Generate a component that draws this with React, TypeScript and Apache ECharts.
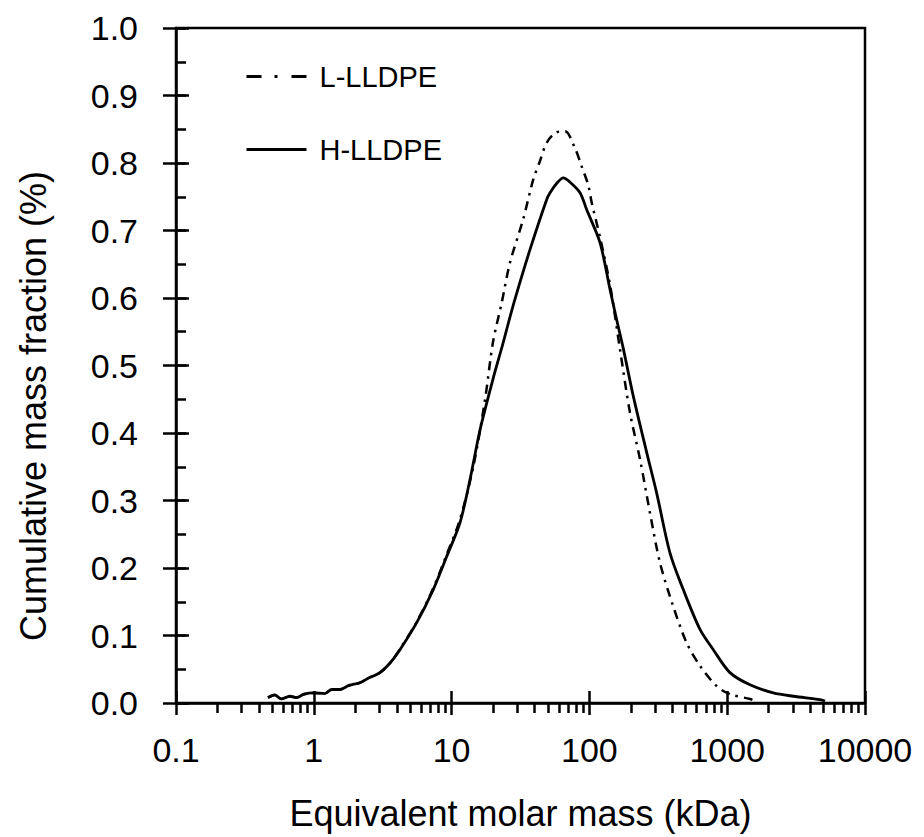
import React, { useEffect, useRef } from "react";
import * as echarts from "echarts";

const xMajor = [0.1, 1, 10, 100, 1000, 10000];
const xMinor = [
  0.2, 0.3, 0.4, 0.5, 0.6, 0.7, 0.8, 0.9,
  2, 3, 4, 5, 6, 7, 8, 9,
  20, 30, 40, 50, 60, 70, 80, 90,
  200, 300, 400, 500, 600, 700, 800, 900,
  2000, 3000, 4000, 5000, 6000, 7000, 8000, 9000,
];

// H-LLDPE: [molar mass kDa, cumulative mass fraction]
const hLLDPE: [number, number][] = [
  [0.465, 0.008], [0.52, 0.012], [0.58, 0.006], [0.67, 0.01], [0.75, 0.008],
  [0.85, 0.013], [1.0, 0.015], [1.2, 0.014], [1.35, 0.02], [1.55, 0.02],
  [1.8, 0.026], [2.16, 0.03], [2.5, 0.037], [3.02, 0.045], [3.6, 0.06],
  [4.22, 0.079], [5.58, 0.119], [7.36, 0.168], [9.21, 0.217], [11.5, 0.267],
  [13.6, 0.331], [16.1, 0.405], [20.1, 0.482], [23.4, 0.53], [25.6, 0.56],
  [28.8, 0.598], [37.1, 0.672], [49.0, 0.746], [51.8, 0.756], [58, 0.77],
  [64.7, 0.778], [72, 0.772], [85.5, 0.756], [95.5, 0.731], [119.4, 0.682],
  [141, 0.613], [158, 0.567], [175, 0.528], [208, 0.455], [260.6, 0.371],
  [307.8, 0.311], [384.6, 0.222], [480, 0.168], [634.8, 0.109], [792.8, 0.079],
  [1047, 0.045], [1464, 0.027], [2161, 0.015], [3018, 0.01], [4711, 0.005],
  [5129, 0.003],
];

// L-LLDPE
const lLLDPE: [number, number][] = [
  [0.465, 0.008], [0.52, 0.012], [0.58, 0.006], [0.67, 0.01], [0.75, 0.008],
  [0.85, 0.013], [1.0, 0.015], [1.2, 0.014], [1.35, 0.02], [1.55, 0.02],
  [1.8, 0.026], [2.16, 0.03], [2.5, 0.037], [3.02, 0.045], [3.6, 0.06],
  [4.22, 0.08], [5.58, 0.12], [7.36, 0.17], [9.21, 0.22], [11.5, 0.272],
  [14.4, 0.351], [17.5, 0.45], [19.95, 0.534], [23.1, 0.593], [26.5, 0.652],
  [33.0, 0.716], [39.2, 0.776], [43.8, 0.803], [49.0, 0.83], [57, 0.845],
  [66.5, 0.847], [78.6, 0.822], [87.9, 0.795], [98.2, 0.767], [104, 0.741],
  [119.4, 0.69], [141, 0.62], [166.7, 0.524], [197, 0.43], [233, 0.361],
  [275, 0.282], [325, 0.208], [406, 0.143], [508, 0.089], [634.8, 0.055],
  [839, 0.025], [1047, 0.013], [1464, 0.006], [1591, 0.003],
];

const FONT = "'Liberation Sans', Arial, sans-serif";

export default function App() {
  const ref = useRef<HTMLDivElement>(null);
  useEffect(() => {
    document.body.style.margin = "0";
    const chart = echarts.init(ref.current!, null, { renderer: "svg" });
    const hidden = { show: false };
    const baseX = {
      type: "log" as const,
      logBase: 10,
      min: 0.1,
      max: 10000,
      position: "bottom" as const,
      splitLine: hidden,
    };
    const baseY = {
      type: "value" as const,
      min: 0,
      max: 1,
      interval: 0.1,
      position: "left" as const,
      splitLine: hidden,
    };
    chart.setOption({
      animation: false,
      backgroundColor: "#fff",
      grid: {
        left: 176,
        right: 59,
        top: 28,
        bottom: 134,
        show: true,
        borderColor: "#000",
        borderWidth: 2.5,
      },
      legend: {
        orient: "vertical",
        left: 240,
        top: 57,
        itemWidth: 60,
        itemHeight: 14,
        itemGap: 44,
        data: [
          { name: "L-LLDPE", lineStyle: { color: "#000", width: 3, type: [15, 13, 3, 14] } },
          { name: "H-LLDPE", lineStyle: { color: "#000", width: 3, type: "solid" } },
        ],
        itemStyle: { opacity: 0 },
        textStyle: {
          fontFamily: FONT,
          fontSize: 29,
          color: "#000",
          padding: [0, 0, 0, 8],
        },
      },
      xAxis: [
        {
          ...baseX,
          name: "Equivalent molar mass (kDa)",
          nameLocation: "middle",
          nameGap: 92,
          nameTextStyle: { fontFamily: FONT, fontSize: 36, color: "#000" },
          axisLine: { onZero: false, lineStyle: { color: "#000", width: 2.5 } },
          axisTick: { show: true, inside: false, length: 12, customValues: xMajor, lineStyle: { color: "#000", width: 2.5 } },
          axisLabel: {
            customValues: xMajor,
            margin: 30,
            fontFamily: FONT,
            fontSize: 34,
            color: "#000",
            formatter: (v: number) => (v < 1 ? v.toFixed(1) : String(Math.round(v))),
          },
        },
        {
          ...baseX,
          axisLine: hidden,
          axisLabel: hidden,
          axisTick: { show: true, inside: true, length: 12, customValues: xMajor, lineStyle: { color: "#000", width: 2.5 } },
        },
        {
          ...baseX,
          axisLine: hidden,
          axisLabel: hidden,
          axisTick: { show: true, inside: false, length: 10, customValues: xMinor, lineStyle: { color: "#000", width: 2.5 } },
        },
      ],
      yAxis: [
        {
          ...baseY,
          axisLine: { onZero: false, lineStyle: { color: "#000", width: 2.5 } },
          axisTick: { show: true, inside: false, length: 13, lineStyle: { color: "#000", width: 2.5 } },
          axisLabel: {
            margin: 38,
            fontFamily: FONT,
            fontSize: 34,
            color: "#000",
            formatter: (v: number) => v.toFixed(1),
          },
        },
        {
          ...baseY,
          axisLine: hidden,
          axisLabel: hidden,
          axisTick: { show: true, inside: true, length: 13, lineStyle: { color: "#000", width: 2.5 } },
        },
        {
          ...baseY,
          interval: 0.05,
          axisLine: hidden,
          axisLabel: hidden,
          axisTick: { show: true, inside: true, length: 10, lineStyle: { color: "#000", width: 2.5 } },
        },
      ],
      graphic: [
        {
          type: "text",
          x: 33,
          y: 406,
          rotation: Math.PI / 2,
          style: {
            text: "Cumulative mass fraction (%)",
            fontFamily: FONT,
            fontSize: 36,
            fill: "#000",
            align: "center",
            verticalAlign: "middle",
          },
        },
      ],
      series: [
        {
          name: "L-LLDPE",
          type: "line",
          data: lLLDPE,
          symbol: "none",
          smooth: 0.3,
          color: "#000",
          lineStyle: { color: "#000", width: 2.5, type: [9, 6, 2.5, 6] },
        },
        {
          name: "H-LLDPE",
          type: "line",
          data: hLLDPE,
          symbol: "none",
          smooth: 0.3,
          color: "#000",
          lineStyle: { color: "#000", width: 2.8, type: "solid" },
        },
      ],
    });
    return () => chart.dispose();
  }, []);
  return <div ref={ref} style={{ width: 924, height: 837 }} />;
}
